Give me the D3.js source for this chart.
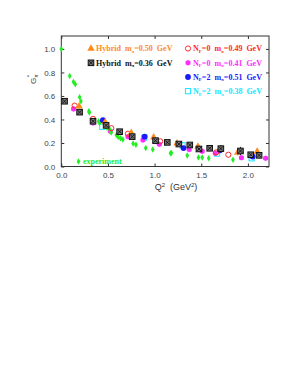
<!DOCTYPE html>
<html>
<head>
<meta charset="utf-8">
<script src="https://cdn.jsdelivr.net/npm/d3@7"></script>
<style>
  body { margin: 0; background: #fff; }
  svg text { white-space: pre; }
  .tick text { font-family: "Liberation Sans", Arial, sans-serif; font-size: 8px; fill: #444; }
  .tick line, .domain { stroke: #333; }
  .leg { font-family: "Liberation Serif", "Times New Roman", serif; font-weight: bold; font-size: 8px; }
</style>
</head>
<body>
<svg id="chart"></svg>
<script>
const w = 300;
const h = 388;

// [Q^2, G, err]
const expData = [
  [0.0, 1.0], [0.09, 0.77], [0.13, 0.72], [0.15, 0.70], [0.196, 0.59], [0.21, 0.555],
  [0.296, 0.47], [0.30, 0.46], [0.40, 0.385], [0.41, 0.37], [0.475, 0.34], [0.49, 0.33],
  [0.52, 0.315], [0.535, 0.29], [0.59, 0.267], [0.61, 0.25], [0.635, 0.24], [0.66, 0.23],
  [0.77, 0.195], [0.80, 0.185], [0.905, 0.157], [0.98, 0.145], [1.17, 0.112], [1.18, 0.115],
  [1.35, 0.093], [1.47, 0.076], [1.51, 0.076], [1.58, 0.07], [1.84, 0.058]
];
const hyb50 = [
  [0.19, 0.512, 0.015], [0.47, 0.377, 0.015], [0.75, 0.287, 0.015], [0.99, 0.248, 0.015],
  [1.24, 0.197, 0.015], [1.465, 0.169, 0.02], [1.89, 0.118, 0.025], [2.1, 0.127, 0.03]
];
const hyb36 = [
  [0.035, 0.555, 0.01], [0.196, 0.462, 0.01], [0.34, 0.385, 0.012], [0.48, 0.35, 0.012],
  [0.625, 0.296, 0.012], [0.76, 0.254, 0.012], [1.01, 0.22, 0.015], [1.136, 0.205, 0.012],
  [1.26, 0.191, 0.015], [1.377, 0.183, 0.02], [1.475, 0.149, 0.025], [1.59, 0.155, 0.025],
  [1.71, 0.152, 0.03], [1.92, 0.132, 0.035], [2.03, 0.10, 0.02], [2.12, 0.095, 0.025]
];
const nf0m49 = [
  [0.143, 0.518], [0.34, 0.405], [0.536, 0.326], [0.714, 0.279], [1.06, 0.214],
  [1.66, 0.12], [1.79, 0.10]
];
const nf0m41 = [
  [0.132, 0.49], [0.34, 0.37], [0.525, 0.30], [0.714, 0.254], [0.875, 0.225], [1.05, 0.19],
  [1.37, 0.144], [1.51, 0.129], [1.65, 0.112], [1.93, 0.075], [2.19, 0.07]
];
const nf2m51 = [[0.446, 0.394], [0.893, 0.254], [1.31, 0.157], [1.70, 0.138], [2.05, 0.085]];
const nf2m38 = [[0.44, 0.338], [0.89, 0.245], [1.30, 0.18], [1.67, 0.11], [2.04, 0.07]];

const xTicks = [0.0, 0.5, 1.0, 1.5, 2.0];
const yTicks = [0.0, 0.2, 0.4, 0.6, 0.8, 1.0];

const orange = "#ff8a1c";
const red = "#ff2a2a";
const magenta = "#ff2cff";
const blue = "#1a1aff";
const cyan = "#12e6ff";
const green = "#22ee22";

const mLeft = 61.3, mRight = 269, mTop = 36, mBottom = 166.5;

const svg = d3.select("#chart").attr("width", w).attr("height", h);

const xScale = d3.scaleLinear().domain([0, 2.226]).range([mLeft, mRight]);
const yScale = d3.scaleLinear().domain([0, 1.11]).range([mBottom, mTop]);

// frame
svg.append("rect")
  .attr("x", mLeft).attr("y", mTop)
  .attr("width", mRight - mLeft).attr("height", mBottom - mTop)
  .attr("fill", "none").attr("stroke", "#333").attr("stroke-width", 1);

const fmt = d3.format(".1f");
svg.append("g")
  .attr("transform", "translate(0," + mBottom + ")")
  .call(d3.axisBottom(xScale).tickValues(xTicks).tickFormat(fmt).tickSize(-3).tickPadding(6))
  .call((g) => g.select(".domain").remove());
svg.append("g")
  .attr("transform", "translate(0," + mTop + ")")
  .call(d3.axisTop(xScale).tickValues(xTicks).tickFormat("").tickSize(-3))
  .call((g) => g.select(".domain").remove());
svg.append("g")
  .attr("transform", "translate(" + mLeft + ",0)")
  .call(d3.axisLeft(yScale).tickValues(yTicks).tickFormat(fmt).tickSize(-3).tickPadding(6))
  .call((g) => g.select(".domain").remove());
svg.append("g")
  .attr("transform", "translate(" + mRight + ",0)")
  .call(d3.axisRight(yScale).tickValues(yTicks).tickFormat("").tickSize(-3))
  .call((g) => g.select(".domain").remove());

// axis labels
const xl = svg.append("text")
  .attr("x", 176).attr("y", 190)
  .attr("text-anchor", "middle")
  .style("font-family", "Liberation Sans, Arial, sans-serif")
  .style("font-size", "9px").style("fill", "#333");
xl.append("tspan").text("Q");
xl.append("tspan").attr("dy", -3).style("font-size", "6px").text("2");
xl.append("tspan").attr("dy", 3).text("  (GeV");
xl.append("tspan").attr("dy", -3).style("font-size", "6px").text("2");
xl.append("tspan").attr("dy", 3).text(")");

const yl = svg.append("text")
  .attr("transform", "translate(36,84) rotate(-90)")
  .style("font-family", "Liberation Sans, Arial, sans-serif")
  .style("font-size", "8px").style("fill", "#333");
yl.append("tspan").text("G");
yl.append("tspan").attr("dy", 2).style("font-size", "5px").text("π");
yl.append("tspan").attr("dx", -3).attr("dy", -7).style("font-size", "6px").text("*");

// symbols
const drawSym = (g, type, color, x, y) => {
  if (type === "tri") {
    g.append("path").attr("d", d3.symbol(d3.symbolTriangle, 24)())
      .attr("transform", `translate(${x},${y})`).attr("fill", color);
  } else if (type === "box") {
    g.append("rect").attr("x", x - 2.8).attr("y", y - 2.8).attr("width", 5.6).attr("height", 5.6)
      .attr("fill", "#777").attr("stroke", "#111").attr("stroke-width", 1);
    g.append("path").attr("d", `M${x - 2},${y - 2}L${x + 2},${y + 2}M${x + 2},${y - 2}L${x - 2},${y + 2}`)
      .attr("stroke", "#111").attr("stroke-width", 0.9);
  } else if (type === "ocircle") {
    g.append("circle").attr("cx", x).attr("cy", y).attr("r", 2.6)
      .attr("fill", "none").attr("stroke", color).attr("stroke-width", 1);
  } else if (type === "circle") {
    g.append("circle").attr("cx", x).attr("cy", y).attr("r", 2.9).attr("fill", color);
  } else if (type === "star") {
    g.append("path").attr("d", d3.symbol(d3.symbolCircle, 20)())
      .attr("transform", `translate(${x},${y})`).attr("fill", color);
    g.append("path").attr("d", d3.symbol(d3.symbolAsterisk, 18)())
      .attr("transform", `translate(${x},${y})`).attr("stroke", color).attr("stroke-width", 1);
  } else if (type === "osquare") {
    g.append("rect").attr("x", x - 2.6).attr("y", y - 2.6).attr("width", 5.2).attr("height", 5.2)
      .attr("fill", "none").attr("stroke", color).attr("stroke-width", 1);
  } else if (type === "diamond") {
    g.append("path").attr("d", d3.symbol(d3.symbolDiamond, 12)())
      .attr("transform", `translate(${x},${y})`).attr("fill", color);
  }
};

const series = [
  { data: nf2m38, type: "osquare", color: cyan },
  { data: nf0m41, type: "star", color: magenta },
  { data: expData, type: "diamond", color: green },
  { data: nf2m51, type: "circle", color: blue },
  { data: nf0m49, type: "ocircle", color: red },
  { data: hyb50, type: "tri", color: orange },
  { data: hyb36, type: "box", color: "#111" }
];

const plot = svg.append("g");
series.forEach((s) => {
  const g = plot.append("g");
  s.data.forEach((d) => {
    if (d[2]) {
      g.append("line")
        .attr("x1", xScale(d[0])).attr("x2", xScale(d[0]))
        .attr("y1", yScale(d[1] - d[2])).attr("y2", yScale(d[1] + d[2]))
        .attr("stroke", s.color).attr("stroke-width", 1);
    }
    drawSym(g, s.type, s.color, xScale(d[0]), yScale(d[1]));
  });
});

// legend
const legend = svg.append("g").attr("id", "legend");
const legItems = [
  { x: 91, y: 48.5, type: "tri", color: orange, parts: ["Hybrid  m", "π", "=0.50  GeV"] },
  { x: 91, y: 62.8, type: "box", color: "#111", parts: ["Hybrid  m", "π", "=0.36  GeV"] },
  { x: 188, y: 48.5, type: "ocircle", color: red, parts: ["N", "F", "=0  m", "π", "=0.49  GeV"] },
  { x: 188, y: 62.8, type: "star", color: magenta, parts: ["N", "F", "=0  m", "π", "=0.41  GeV"] },
  { x: 188, y: 77, type: "circle", color: blue, parts: ["N", "F", "=2  m", "π", "=0.51  GeV"] },
  { x: 188, y: 91.2, type: "osquare", color: cyan, parts: ["N", "F", "=2  m", "π", "=0.38  GeV"] }
];
legItems.forEach((it) => {
  drawSym(legend, it.type, it.color, it.x, it.y);
  const t = legend.append("text").attr("class", "leg")
    .attr("x", it.x + 5).attr("y", it.y + 2.8).attr("fill", it.color);
  it.parts.forEach((p, i) => {
    if (i % 2 === 1) {
      t.append("tspan").attr("dy", 1.5).style("font-size", "5px").text(p);
    } else {
      t.append("tspan").attr("dy", i === 0 ? 0 : -1.5).text(p);
    }
  });
});
drawSym(legend, "diamond", green, 78.5, 161.5);
legend.append("text").attr("class", "leg")
  .attr("x", 83).attr("y", 164.3).attr("fill", green).text("experiment");
</script>
</body>
</html>
